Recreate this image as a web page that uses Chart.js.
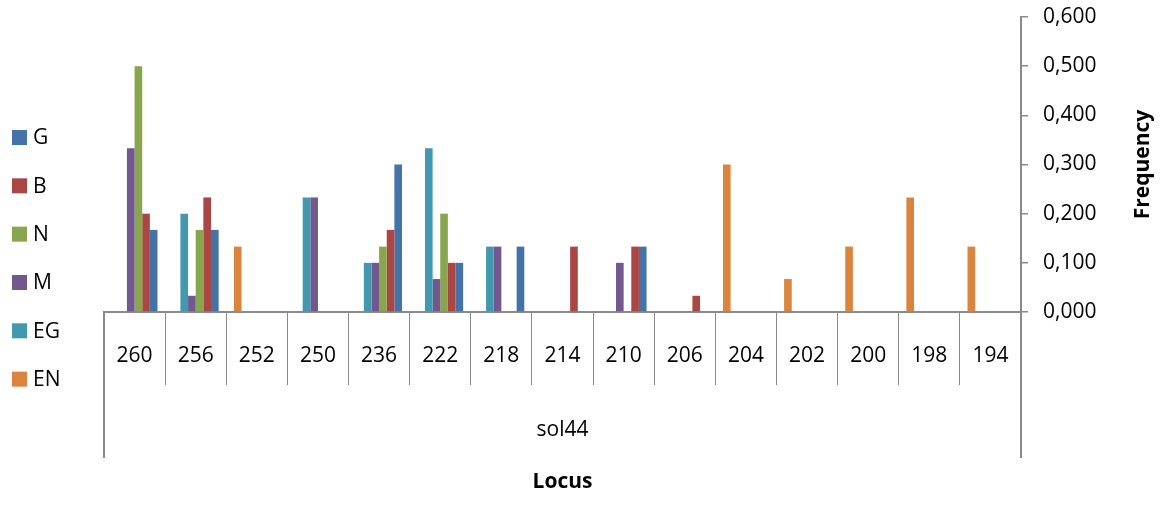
<!DOCTYPE html>
<html>
<head>
<meta charset="utf-8">
<title>sol44 allele frequencies</title>
<script src="https://cdn.jsdelivr.net/npm/chart.js@4.4.1/dist/chart.umd.min.js"></script>
<style>
  html, body { margin: 0; padding: 0; background: #ffffff; }
  #wrap { width: 1167px; height: 506px; }
</style>
</head>
<body>
<div id="wrap"><canvas id="chart" width="1167" height="506"></canvas></div>
<script>
// Alleles of locus sol44, in the order they are listed along the axis
const alleles = ['260', '256', '252', '250', '236', '222', '218', '214', '210', '206', '204', '202', '200', '198', '194'];
const locusName = 'sol44';

// Allele frequency per population
const freqG  = [0.167, 0.167, 0, 0, 0.300, 0.100, 0.133, 0, 0.133, 0, 0, 0, 0, 0, 0];
const freqB  = [0.200, 0.233, 0, 0, 0.167, 0.100, 0, 0.133, 0.133, 0.033, 0, 0, 0, 0, 0];
const freqN  = [0.500, 0.167, 0, 0, 0.133, 0.200, 0, 0, 0, 0, 0, 0, 0, 0, 0];
const freqM  = [0.333, 0.033, 0, 0.233, 0.100, 0.067, 0.133, 0, 0.100, 0, 0, 0, 0, 0, 0];
const freqEG = [0, 0.200, 0, 0.233, 0.100, 0.333, 0.133, 0, 0, 0, 0, 0, 0, 0, 0];
const freqEN = [0, 0, 0.133, 0, 0, 0, 0, 0, 0, 0, 0.300, 0.067, 0.133, 0.233, 0.133];

// Frequency axis ticks
const freqTicks = [0, 0.1, 0.2, 0.3, 0.4, 0.5, 0.6];

const FONT = "'Open Sans', 'Liberation Sans', sans-serif";
const AXIS = '#8a8a8a';

// Populations as listed in the legend (top to bottom)
const populations = [
  { label: 'G',  data: freqG,  color: '#4572A7' },
  { label: 'B',  data: freqB,  color: '#AA4643' },
  { label: 'N',  data: freqN,  color: '#89A54E' },
  { label: 'M',  data: freqM,  color: '#71588F' },
  { label: 'EG', data: freqEG, color: '#4198AF' },
  { label: 'EN', data: freqEN, color: '#DB843D' }
];

// Within each allele the bars run EN ... G from left to right
const datasets = populations.slice().reverse().map(p => ({
  label: p.label,
  data: p.data,
  backgroundColor: p.color,
  borderWidth: 0,
  categoryPercentage: 0.75,
  barPercentage: 1.0
}));

const fmt = v => v.toFixed(3).replace('.', ',');

// Extra drawing: outer frame of the two-level category axis, group label,
// rotated value-axis title and the legend column on the left.
const decorations = {
  id: 'decorations',
  afterDraw(chart) {
    const { ctx } = chart;
    const xs = chart.scales.x;
    const ys = chart.scales.y;
    const base = ys.getPixelForValue(0);
    ctx.save();

    ctx.strokeStyle = AXIS;
    ctx.lineWidth = 2;
    [xs.left, xs.right].forEach(px => {
      ctx.beginPath();
      ctx.moveTo(px, base);
      ctx.lineTo(px, 458);
      ctx.stroke();
    });

    ctx.fillStyle = '#000';
    ctx.font = `21px ${FONT}`;
    ctx.textAlign = 'center';
    ctx.textBaseline = 'middle';
    ctx.fillText(locusName, (xs.left + xs.right) / 2, 430);

    ctx.save();
    ctx.translate(1143, (ys.top + ys.bottom) / 2);
    ctx.rotate(-Math.PI / 2);
    ctx.font = `bold 21px ${FONT}`;
    ctx.fillText('Frequency', 0, 0);
    ctx.restore();

    ctx.textAlign = 'left';
    ctx.font = `21px ${FONT}`;
    chart.data.datasets.slice().reverse().forEach((ds, i) => {
      const cy = 137.5 + i * 48.33;
      ctx.fillStyle = ds.backgroundColor;
      ctx.fillRect(12, cy - 7.5, 15, 15);
      ctx.fillStyle = '#000';
      ctx.fillText(ds.label, 33, cy + 1);
    });

    ctx.restore();
  }
};

new Chart(document.getElementById('chart'), {
  type: 'bar',
  data: { labels: alleles, datasets },
  plugins: [decorations],
  options: {
    responsive: false,
    animation: false,
    devicePixelRatio: 1,
    layout: { padding: { left: 104, top: 17, right: 0, bottom: 0 } },
    plugins: {
      legend: { display: false },
      tooltip: { enabled: false }
    },
    scales: {
      x: {
        position: 'bottom',
        offset: true,
        grid: {
          display: true,
          offset: true,
          drawOnChartArea: false,
          drawTicks: true,
          tickLength: 73,
          color: AXIS,
          lineWidth: 1
        },
        border: { display: true, color: AXIS, width: 2 },
        ticks: {
          autoSkip: false,
          maxRotation: 0,
          minRotation: 0,
          padding: -42,
          color: '#000',
          font: { family: FONT, size: 21 }
        },
        title: {
          display: true,
          text: 'Locus',
          color: '#000',
          font: { family: FONT, size: 21, weight: 'bold' },
          padding: { top: 0, bottom: 11 }
        },
        afterFit(scale) {
          scale.height = 194;
          scale.paddingLeft = 0;
          scale.paddingRight = 0;
        }
      },
      y: {
        position: 'right',
        min: 0,
        max: 0.6,
        afterBuildTicks(scale) { scale.ticks = freqTicks.map(v => ({ value: v })); },
        grid: {
          display: true,
          drawOnChartArea: false,
          drawTicks: true,
          tickLength: 7,
          color: AXIS,
          lineWidth: 1.5
        },
        border: { display: true, color: AXIS, width: 2 },
        ticks: {
          padding: 15,
          color: '#000',
          font: { family: FONT, size: 21 },
          callback: v => fmt(v)
        },
        title: { display: false },
        afterFit(scale) {
          scale.width = 146;
          scale.paddingTop = 0;
          scale.paddingBottom = 0;
        }
      }
    }
  }
});
</script>
</body>
</html>
